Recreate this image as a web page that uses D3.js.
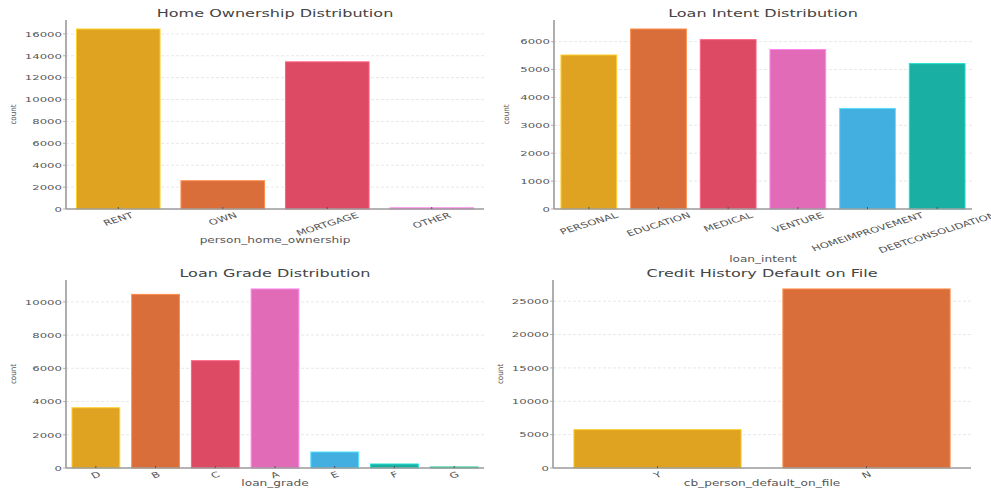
<!DOCTYPE html>
<html><head><meta charset="utf-8">
<script src="https://cdn.jsdelivr.net/npm/d3@7"></script>
<style>
html,body{margin:0;padding:0;background:#fff;}
svg{display:block;font-family:"DejaVu Sans",sans-serif;}
</style></head>
<body><svg id="chart" width="991" height="488"></svg>
<script>
// ---- data ----
const homeCats = ["RENT","OWN","MORTGAGE","OTHER"];
const homeCounts = [16446, 2584, 13444, 107];
const homeTicks = [0,2000,4000,6000,8000,10000,12000,14000,16000];

const intentCats = ["PERSONAL","EDUCATION","MEDICAL","VENTURE","HOMEIMPROVEMENT","DEBTCONSOLIDATION"];
const intentCounts = [5521, 6453, 6071, 5719, 3605, 5212];
const intentTicks = [0,1000,2000,3000,4000,5000,6000];

const gradeCats = ["D","B","C","A","E","F","G"];
const gradeCounts = [3626, 10451, 6458, 10777, 964, 241, 64];
const gradeTicks = [0,2000,4000,6000,8000,10000];

const defaultCats = ["Y","N"];
const defaultCounts = [5745, 26836];
const defaultTicks = [0,5000,10000,15000,20000,25000];

const palette = ["#DFA221","#DA6E3A","#DC4A64","#E26BB8","#42AFE0","#19AFA2","#22A67E"];

const panels = [
  {title:"Home Ownership Distribution", xlabel:"person_home_ownership", cats:homeCats, vals:homeCounts, ticks:homeTicks,
   left:66, right:484, top:20, bottom:209, titleY:17, xlabY:243, ylabX:16, rot:true},
  {title:"Loan Intent Distribution", xlabel:"loan_intent", cats:intentCats, vals:intentCounts, ticks:intentTicks,
   left:554, right:972, top:20, bottom:209, titleY:17, xlabY:262, ylabX:509, rot:true},
  {title:"Loan Grade Distribution", xlabel:"loan_grade", cats:gradeCats, vals:gradeCounts, ticks:gradeTicks,
   left:66, right:484, top:280, bottom:468, titleY:277, xlabY:486, ylabX:16, rot:true},
  {title:"Credit History Default on File", xlabel:"cb_person_default_on_file", cats:defaultCats, vals:defaultCounts, ticks:defaultTicks,
   left:553, right:971, top:280, bottom:468, titleY:277, xlabY:486, ylabX:503, rot:true}
];

const K = 1.5;           // horizontal stretch of the reference image
const svg = d3.select("#chart");

panels.forEach(p => {
  const g = svg.append("g");
  const x = d3.scaleBand().domain(p.cats).range([p.left, p.right]).paddingInner(0.2).paddingOuter(0.1);
  const y = d3.scaleLinear().domain([0, d3.max(p.vals) * 1.05]).range([p.bottom, p.top]);

  // grid
  g.selectAll("line.grid").data(p.ticks.filter(t => t > 0)).join("line")
    .attr("x1", p.left).attr("x2", p.right)
    .attr("y1", d => y(d)).attr("y2", d => y(d))
    .attr("stroke", "#e2e2e2").attr("stroke-width", 0.8).attr("stroke-dasharray", "3,2");

  // bars
  g.selectAll("rect.bar").data(p.cats).join("rect")
    .attr("x", d => x(d)).attr("width", x.bandwidth())
    .attr("y", (d,i) => y(p.vals[i])).attr("height", (d,i) => y(0) - y(p.vals[i]))
    .attr("fill", (d,i) => palette[i])
    .attr("stroke", (d,i) => d3.color(palette[i]).brighter(0.7))
    .attr("stroke-width", 1);

  // spines
  g.append("line").attr("x1", p.left).attr("x2", p.left).attr("y1", p.top).attr("y2", p.bottom)
    .attr("stroke", "#9a9a9a").attr("stroke-width", 1.6);
  g.append("line").attr("x1", p.left).attr("x2", p.right).attr("y1", p.bottom).attr("y2", p.bottom)
    .attr("stroke", "#9a9a9a").attr("stroke-width", 1.6);

  // y ticks
  g.selectAll("line.yt").data(p.ticks).join("line")
    .attr("x1", p.left - 3).attr("x2", p.left).attr("y1", d => y(d)).attr("y2", d => y(d))
    .attr("stroke", "#9a9a9a").attr("stroke-width", 0.8);
  g.selectAll("text.yl").data(p.ticks).join("text")
    .attr("transform", d => `translate(${p.left - 4},${y(d)}) scale(${K},1)`)
    .attr("text-anchor", "end").attr("dy", "0.36em")
    .attr("font-size", 7.8).attr("fill", "#555")
    .text(d => d);

  // x ticks
  g.selectAll("line.xt").data(p.cats).join("line")
    .attr("x1", d => x(d) + x.bandwidth()/2).attr("x2", d => x(d) + x.bandwidth()/2)
    .attr("y1", p.bottom - 2).attr("y2", p.bottom)
    .attr("stroke", "#555").attr("stroke-width", 1);

  const ang = 25, rad = ang * Math.PI / 180, fs = 7.8, top = p.bottom + 3;
  g.selectAll("text.xl").data(p.cats).join("text")
    .attr("text-anchor", "middle").attr("dominant-baseline", "central")
    .attr("font-size", fs).attr("fill", "#555")
    .text(d => d)
    .each(function(d) {
      const w = this.getComputedTextLength();
      const hh = (w/2) * Math.sin(rad) + (fs*0.75/2) * Math.cos(rad);
      const cx = x(d) + x.bandwidth()/2;
      d3.select(this).attr("transform", `translate(${cx},${top + hh}) scale(${K},1) rotate(${-ang})`);
    });

  // title
  g.append("text")
    .attr("transform", `translate(${(p.left + p.right)/2},${p.titleY}) scale(${K},1)`)
    .attr("text-anchor", "middle").attr("font-size", 10.7).attr("fill", "#444")
    .text(p.title);

  // x label
  g.append("text")
    .attr("transform", `translate(${(p.left + p.right)/2},${p.xlabY}) scale(${K},1)`)
    .attr("text-anchor", "middle").attr("font-size", 8.1).attr("fill", "#555")
    .text(p.xlabel);

  // y label
  g.append("text")
    .attr("transform", `translate(${p.ylabX},${(p.top + p.bottom)/2}) scale(1.1,1) rotate(-90)`)
    .attr("text-anchor", "middle").attr("font-size", 7.2).attr("fill", "#555")
    .text("count");
});
</script>
</body></html>
